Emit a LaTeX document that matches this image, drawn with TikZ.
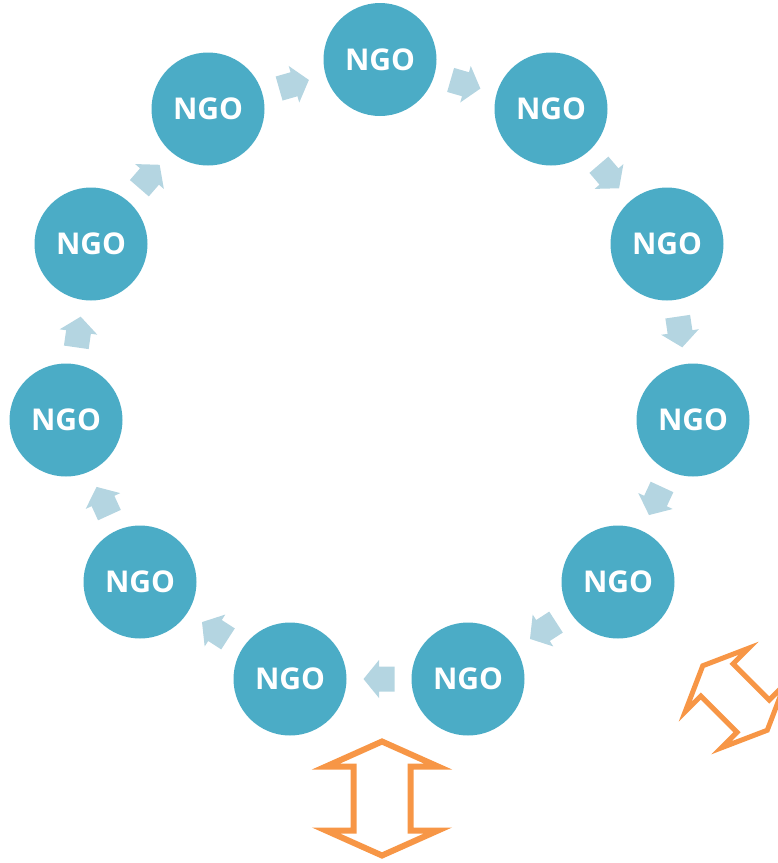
\documentclass[tikz,border=0pt]{standalone}
\usepackage{fontspec}
\setmainfont{Open Sans}
\usetikzlibrary{calc}
\definecolor{ngoblue}{HTML}{4BACC6}
\definecolor{arrowblue}{HTML}{B4D5E1}
\definecolor{ngoorange}{HTML}{F79646}
\tikzset{
  ngo/.style={circle, fill=ngoblue, minimum size=113pt, inner sep=0pt,
    text=white, font=\fontsize{30}{32}\selectfont\bfseries},
  barrow/.pic={\fill[arrowblue] (15.5,0) -- (0,19) -- (0,12.5) -- (-15.5,12.5)
     -- (-15.5,-12.5) -- (0,-12.5) -- (0,-19) -- cycle;},
  dblarrow/.pic={\draw[ngoorange, line width=6pt, line join=miter, miter limit=10]
     (0,-57) -- (56,-32) -- (28.5,-32) -- (28.5,32) -- (56,32) -- (0,57)
     -- (-56,32) -- (-28.5,32) -- (-28.5,-32) -- (-56,-32) -- cycle;},
  dblarrowthin/.pic={\draw[ngoorange, line width=5pt, line join=miter, miter limit=10]
     (0,-57) -- (56,-32) -- (28.5,-32) -- (28.5,32) -- (56,32) -- (0,57)
     -- (-56,32) -- (-28.5,32) -- (-28.5,-32) -- (-56,-32) -- cycle;}
}
\begin{document}
\begin{tikzpicture}[x=1pt,y=-1pt]
\useasboundingbox (0,0) rectangle (778,863);
\node[ngo] (n1) at (380,59.5) {NGO};
\node[ngo] (n2) at (551,109) {NGO};
\node[ngo] (n3) at (667,244) {NGO};
\node[ngo] (n4) at (693,420) {NGO};
\node[ngo] (n5) at (618,582) {NGO};
\node[ngo] (n6) at (468,679) {NGO};
\node[ngo] (n7) at (290,679) {NGO};
\node[ngo] (n8) at (140,582) {NGO};
\node[ngo] (n9) at (66,420) {NGO};
\node[ngo] (n10) at (91,244) {NGO};
\node[ngo] (n11) at (208,109) {NGO};
\foreach \a/\b in {n1/n2,n2/n3,n3/n4,n4/n5,n5/n6,n6/n7,n7/n8,n8/n9,n9/n10,n10/n11,n11/n1}{
  \path let \p1=($(\b)-(\a)$), \n1={atan2(\y1,\x1)} in
    ($(\a)!0.5!(\b)$) pic[rotate=\n1] {barrow};
}
\path (382,798.5) pic {dblarrow};
\path (735,698) pic[rotate=45, scale=0.8] {dblarrowthin};
\end{tikzpicture}
\end{document}
